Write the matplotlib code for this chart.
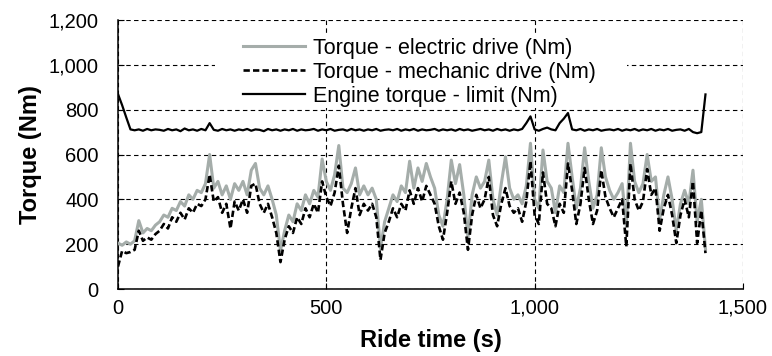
import matplotlib
matplotlib.use("Agg")
import matplotlib.pyplot as plt
from matplotlib.patches import Rectangle
from matplotlib.ticker import FuncFormatter
import numpy as np

# ride time in seconds, one sample every 10 s
time_s = np.arange(0, 1420, 10)

torque_electric = [
    205, 195, 210, 200, 215, 305, 250, 270, 260, 285,
    300, 330, 320, 360, 350, 390, 370, 420, 400, 440,
    430, 470, 600, 450, 480, 420, 460, 400, 470, 440,
    480, 420, 530, 560, 450, 420, 460, 400, 330, 170,
    260, 330, 300, 380, 350, 420, 380, 440, 410, 580,
    480, 440, 510, 640, 450, 430, 470, 540, 420, 460,
    420, 450, 400, 180, 300, 360, 420, 390, 460, 430,
    570, 450, 540, 480, 560, 500, 450, 330, 280, 400,
    575, 470, 555, 420, 230, 420, 500, 450, 480, 575,
    400, 330, 470, 590, 450, 400, 420, 380, 460, 650,
    400, 360, 620, 480, 450, 340, 460, 430, 650, 500,
    360, 450, 630, 480, 360, 420, 630, 500, 440, 400,
    430, 470, 280, 650, 480, 430, 470, 600, 480, 500,
    310, 420, 500, 400, 260, 380, 440, 380, 530, 300, 400, 180,
]

torque_mechanic = [
    100, 170, 160, 165, 175, 260, 215, 230, 220, 245,
    260, 290, 270, 320, 300, 340, 310, 360, 340, 380,
    370, 400, 510, 390, 410, 340, 380, 270, 390, 350,
    400, 340, 460, 470, 380, 340, 380, 320, 250, 120,
    220, 280, 250, 320, 290, 360, 320, 380, 340, 480,
    410, 370, 430, 550, 380, 250, 360, 450, 330, 380,
    350, 380, 320, 130, 250, 300, 360, 320, 380, 350,
    440, 380, 450, 390, 460, 420, 380, 280, 220, 340,
    480, 380, 430, 340, 175, 330, 420, 360, 400, 500,
    330, 280, 380, 450, 370, 340, 360, 300, 390, 570,
    330, 290, 520, 380, 360, 280, 380, 340, 560, 440,
    290, 380, 540, 400, 290, 350, 530, 410, 360, 320,
    360, 400, 190, 560, 400, 350, 390, 535, 420, 450,
    260, 360, 420, 330, 205, 330, 400, 320, 480, 205, 350, 160,
]

torque_limit = [
    870, 820, 765, 712, 708, 712, 706, 714, 708, 712,
    710, 706, 714, 708, 712, 704, 716, 708, 712, 706,
    714, 708, 740, 710, 706, 714, 708, 712, 706, 712,
    708, 714, 706, 712, 710, 704, 714, 708, 712, 706,
    712, 708, 714, 706, 712, 708, 710, 714, 706, 712,
    708, 714, 706, 710, 712, 706, 714, 708, 712, 706,
    712, 708, 714, 706, 710, 712, 708, 714, 706, 712,
    708, 714, 706, 712, 708, 710, 714, 706, 712, 708,
    712, 706, 714, 708, 712, 706, 710, 714, 708, 712,
    706, 714, 708, 712, 706, 712, 708, 714, 740, 770,
    712, 706, 714, 720, 712, 708, 740, 760, 785, 712,
    708, 714, 706, 712, 708, 714, 706, 710, 712, 708,
    714, 706, 712, 708, 714, 706, 712, 708, 714, 706,
    712, 708, 714, 706, 710, 712, 706, 714, 700, 695, 700, 868,
]

y_ticks = [0, 200, 400, 600, 800, 1000, 1200]
x_ticks = [0, 500, 1000, 1500]

plt.rcParams['font.family'] = ['Liberation Sans', 'DejaVu Sans']

fig = plt.figure(figsize=(7.72, 3.56), dpi=100)
ax = fig.add_axes([0.1528, 0.1882, 0.8096, 0.7556])

ax.plot(time_s, torque_electric, color='#a5adaa', lw=2.2,
        label='Torque - electric drive (Nm)', zorder=3)
ax.plot(time_s, torque_mechanic, color='black', lw=1.9, ls=(0, (2.4, 1.2)),
        label='Torque - mechanic drive (Nm)', zorder=4)
ax.plot(time_s, torque_limit, color='black', lw=1.6,
        label='Engine torque - limit (Nm)', zorder=4)

ax.set_xlim(0, 1500)
ax.set_ylim(0, 1200)
ax.set_xticks(x_ticks)
ax.set_yticks(y_ticks)
thousands = FuncFormatter(lambda v, p: f'{int(v):,}')
ax.xaxis.set_major_formatter(thousands)
ax.yaxis.set_major_formatter(thousands)
ax.tick_params(direction='in', length=4, width=0.8, labelsize=14.5)
ax.tick_params(axis='y', pad=14)
ax.tick_params(axis='x', pad=7)

ax.grid(True, color='black', ls=(0, (4, 3)), lw=0.8)
ax.set_axisbelow(True)
ax.spines['top'].set_visible(False)
ax.spines['right'].set_visible(False)
ax.spines['left'].set_linewidth(1.1)
ax.spines['bottom'].set_linewidth(1.1)

ax.set_xlabel('Ride time (s)', fontsize=17, fontweight='bold', labelpad=8)
ax.set_ylabel('Torque (Nm)', fontsize=17, fontweight='bold', labelpad=5)

# white legend area hiding the grid behind it
ax.add_patch(Rectangle((0.155, 0.673), 0.659, 0.275, transform=ax.transAxes,
                       facecolor='white', edgecolor='none', zorder=2))

leg = ax.legend(loc='upper left', bbox_to_anchor=(0.2, 0.933), fontsize=15.5,
                handlelength=2.88, handletextpad=0.37, labelspacing=0.13,
                borderpad=0, borderaxespad=0, frameon=False)
leg.set_zorder(5)

fig.savefig('out.png', dpi=100)
